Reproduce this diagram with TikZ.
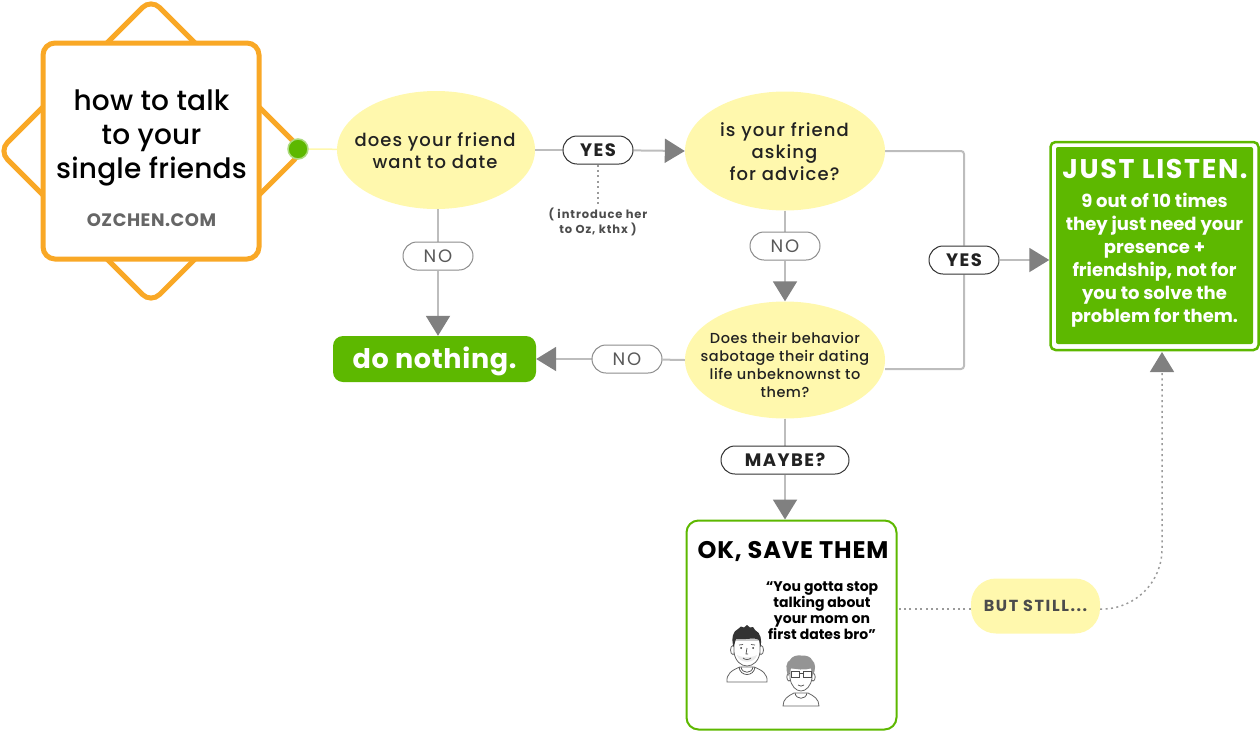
\documentclass[tikz,border=0pt]{standalone}
\usepackage{fontspec}
\setmainfont{Poppins}
\newfontfamily\ozmedium{Poppins Medium}
\usepackage{tikz}
\usetikzlibrary{arrows.meta,shapes.geometric,backgrounds}
\definecolor{ozorange}{HTML}{F9A826}
\definecolor{ozgreen}{HTML}{5DB800}
\definecolor{ozyellow}{HTML}{FFF8AD}
\definecolor{ozline}{HTML}{BDBDBD}
\definecolor{oztip}{HTML}{808080}
\definecolor{oztext}{HTML}{222222}
\tikzset{
  question/.style={ellipse,fill=ozyellow,inner sep=0pt},
  asktext/.style={align=center,text=oztext,font=\ozmedium\addfontfeatures{LetterSpace=6}\fontsize{18}{22}\selectfont},
  yesbox/.style={draw=black!80,fill=white,rounded corners=14pt,line width=1pt,minimum width=70pt,minimum height=28pt,inner sep=0pt,text=oztext,font=\bfseries\addfontfeatures{LetterSpace=8}\fontsize{18}{20}\selectfont},
  nobox/.style={draw=black!45,fill=white,rounded corners=14pt,line width=1pt,minimum width=70pt,minimum height=28pt,inner sep=0pt,text=black!65,font=\addfontfeatures{LetterSpace=10}\fontsize{18}{20}\selectfont},
  flow/.style={ozline,line width=2pt,-{Triangle[length=20pt,width=24pt,color=oztip]}},
  plain/.style={ozline,line width=2pt,rounded corners=3pt},
  dots/.style={oztip!80,line width=1.5pt,dash pattern=on 2pt off 3.4pt},
  face/.style={draw=black!60,fill=white,line width=.8pt},
  feature/.style={black!70,line width=.7pt}
}
\begin{document}
\begin{tikzpicture}[x=1pt,y=-1pt]
\useasboundingbox (0,0) rectangle (1260,731);
%%%%% Start %%%%%
\node[draw=ozorange,line width=5pt,rounded corners=12pt,rotate=45,minimum size=215pt,inner sep=0pt] (backing) at (151,151) {};
\node[draw=ozorange,fill=white,line width=5pt,rounded corners=12pt,minimum size=216pt,inner sep=0pt] (start) at (151,151) {};
\node[align=center,font=\ozmedium\addfontfeatures{LetterSpace=0.7}\fontsize{28}{34}\selectfont] (title) at (151.5,138) {how to talk\\to your\\single friends};
\node[text=black!60,font=\bfseries\addfontfeatures{LetterSpace=3}\fontsize{18}{20}\selectfont] (site) at (151.5,220) {OZCHEN.COM};
\node[circle,fill=ozgreen,draw=ozgreen!50!white,line width=1.5pt,minimum size=20pt,inner sep=0pt] (dot) at (298,149) {};
%%%%% Questions %%%%%
\node[question,minimum width=198pt,minimum height=118pt] (friend) at (436,150) {};
\node[asktext] (friendtext) at (435,151) {does your friend\\want to date};
\node[question,minimum width=200pt,minimum height=119pt] (advice) at (785,151) {};
\node[asktext] (advicetext) at (784.5,152) {is your friend\\asking\\for advice?};
\node[question,minimum width=200pt,minimum height=117pt] (behavior) at (785,360) {};
\node[asktext,font=\ozmedium\addfontfeatures{LetterSpace=3.5}\fontsize{14.5}{18}\selectfont] (behaviortext) at (785,365) {Does their behavior\\sabotage their dating\\life unbeknownst to\\them?};
%%%%% Answers %%%%%
\node[yesbox] (yes1) at (598,150) {YES};
\node[nobox] (no1) at (438,256) {NO};
\node[nobox] (no2) at (785,246) {NO};
\node[yesbox] (yes2) at (964,260) {YES};
\node[nobox] (no3) at (627,359) {NO};
\node[yesbox,minimum width=128pt] (maybe) at (785,460) {MAYBE?};
\node[align=center,text=black!70,font=\bfseries\addfontfeatures{LetterSpace=8}\fontsize{11.5}{15}\selectfont] (intro) at (598,222) {( introduce her\\to Oz, kthx )};
%%%%% Results %%%%%
\node[fill=ozgreen,rounded corners=10pt,minimum width=203pt,minimum height=46pt,inner sep=0pt] (nothing) at (434.5,359) {};
\node[text=white,font=\bfseries\addfontfeatures{LetterSpace=2.5}\fontsize{27}{30}\selectfont] (nothingtext) at (434.5,361) {do nothing.};
\node[draw=ozgreen,line width=2.5pt,fill=white,rounded corners=5pt,minimum width=208pt,minimum height=208pt,inner sep=0pt] (listen) at (1154.5,246) {};
\node[fill=ozgreen,rounded corners=2pt,minimum width=197pt,minimum height=197pt,inner sep=0pt] (listenfill) at (1154.5,245.5) {};
\node[text=white,font=\bfseries\addfontfeatures{LetterSpace=6}\fontsize{27}{30}\selectfont] (listentitle) at (1155,169) {JUST LISTEN.};
\node[text=white,align=center,font=\bfseries\fontsize{18}{23}\selectfont] (listentext) at (1154.5,260.5) {9 out of 10 times\\they just need your\\presence +\\friendship, not for\\you to solve the\\problem for them.};
\node[draw=ozgreen,line width=2pt,fill=white,rounded corners=12pt,minimum width=210pt,minimum height=209pt,inner sep=0pt] (save) at (791.5,625) {};
\node[font=\bfseries\addfontfeatures{LetterSpace=3.5}\fontsize{24}{26}\selectfont] (savetitle) at (793,551) {OK, SAVE THEM};
\node[align=center,font=\bfseries\fontsize{14}{16}\selectfont] (quote) at (822,611) {“You gotta stop\\talking about\\your mom on\\first dates bro”};
\node[fill=ozyellow,rounded corners=25pt,minimum width=129pt,minimum height=55pt,inner sep=0pt,text=black!70,font=\bfseries\addfontfeatures{LetterSpace=10}\fontsize{16}{18}\selectfont] (still) at (1035.5,606) {BUT STILL...};
\coordinate (listenin) at (1162,352);
%%%%% Connectors %%%%%
\begin{scope}[on background layer]
\draw[ozyellow,line width=1.5pt] (dot) -- (friend);
\draw[plain] (friend.east) -- (yes1);
\draw[flow] (yes1) -- (advice.west);
\draw[dots] (yes1) -- (intro);
\draw[plain] (no1 |- friend.south) -- (no1);
\draw[flow] (no1) -- (no1 |- nothing.north);
\draw[plain] (advice.south) -- (no2);
\draw[flow] (no2) -- (behavior.north);
\draw[plain] (behavior.west) -- (no3);
\draw[flow] (no3) -- (nothing.east |- no3);
\draw[plain] (behavior.south) -- (maybe);
\draw[flow] (maybe) -- (save.north -| maybe);
\draw[plain] (advice.east) -| (yes2);
\draw[plain] (behavior.east) ++(0,9) -| (yes2);
\draw[flow] (yes2) -- (yes2 -| listen.west);
\draw[dots] ([yshift=-3pt]still.west) -- ([yshift=-3pt]still.west -| save.east);
\draw[dots,rounded corners=60pt,-{Triangle[length=20pt,width=24pt,color=oztip]}] ([yshift=-3pt]still.east) -| (listenin);
\end{scope}
%%%%% People %%%%%
% talking one
\draw[face] (727,682) .. controls (726,674) and (732,670) .. (740,667) -- (754,667) .. controls (762,670) and (768,674) .. (767,682) -- cycle;
\draw[feature] (741,667) .. controls (742,674) and (752,674) .. (753,667);
\draw[feature] (739,667) .. controls (740,677) and (754,677) .. (755,667);
\draw[face] (733,650) ellipse (2.5 and 4.5);
\draw[face] (761,650) ellipse (2.5 and 4.5);
\draw[face] (734,640) -- (734,652) .. controls (735,661) and (741,666) .. (747,666) .. controls (753,666) and (759,661) .. (760,652) -- (760,640) -- cycle;
\fill[black!8] (737,655) .. controls (739,664) and (755,664) .. (757,655) .. controls (752,658) and (742,658) .. (737,655);
\fill[black!80] (733.5,647) .. controls (731,638) and (733,631) .. (738,629) -- (741,626.5) -- (744,627.5) -- (747,625) -- (750,627.5) -- (753,627) -- (755,630) .. controls (761,633) and (762,640) .. (760.5,647) -- (759,640) .. controls (755,637) and (745,640) .. (736,639) -- cycle;
\draw[feature] (739,645) -- (743,644.5) (751,644.5) -- (755,645);
\fill[black!80] (741,648) circle (1) (753,648) circle (1);
\draw[feature] (747,648) -- (746,654) -- (748,654);
\draw[feature] (743,658) .. controls (745,660) and (749,660) .. (751,658);
% listening one
\draw[face] (783,706) .. controls (783,699) and (788,696) .. (794,693) -- (808,693) .. controls (814,696) and (819,699) .. (819,706) -- cycle;
\draw[feature] (795,693) .. controls (796,700) and (806,700) .. (807,693);
\draw[face] (789,677) ellipse (2.2 and 4);
\draw[face] (813,677) ellipse (2.2 and 4);
\draw[face] (790,668) -- (790,678) .. controls (791,686) and (796,691) .. (801,691) .. controls (806,691) and (811,686) .. (812,678) -- (812,668) -- cycle;
\fill[black!42] (788.5,676) .. controls (785,669) and (786,662) .. (790,660) .. controls (792,656) and (797,655) .. (801,655.5) .. controls (806,655) and (811,657) .. (812,660) .. controls (816,663) and (816,670) .. (812.5,676) -- (811,668) .. controls (804,671) and (796,669) .. (791,668) -- cycle;
\draw[black!70,line width=1pt] (791,671) rectangle (799,677) (803,671) rectangle (811,677) (799,673) -- (803,673);
\draw[feature] (798,685) .. controls (800,686.5) and (802,686.5) .. (804,685);
\end{tikzpicture}
\end{document}
